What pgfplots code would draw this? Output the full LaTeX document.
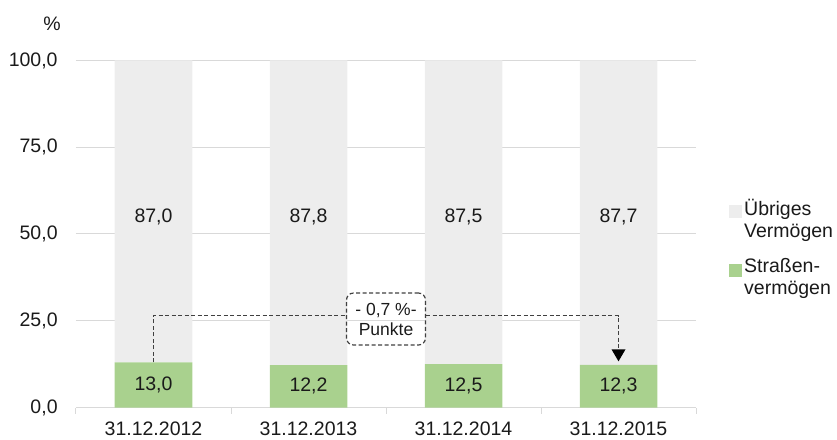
\documentclass[border=0pt]{standalone}
\usepackage{fontspec}
\setmainfont{Liberation Sans}
\usepackage{pgfplots}
\pgfplotsset{compat=1.18}
\usetikzlibrary{arrows.meta}
\definecolor{grn}{HTML}{A9D18E}
\definecolor{gry}{HTML}{EDEDED}
\definecolor{gridc}{HTML}{D9D9D9}
\definecolor{txt}{HTML}{1A1A1A}
\definecolor{ann}{HTML}{404040}
\begin{document}
\fontsize{19.5}{22}\selectfont
\begin{tikzpicture}
\useasboundingbox (-76pt,-31.5pt) rectangle (761pt,407.5pt);
\pgfplotsset{base/.style={at={(0,0)}, anchor=south west,
  scale only axis, width=620pt, height=347pt,
  xmin=-0.5, xmax=3.5, ymin=0, ymax=100}}
\begin{axis}[base,
  ybar stacked, bar width=0.5,
  axis lines*=left,
  x axis line style={draw=gridc, line width=1pt, -},
  y axis line style={draw=none},
  xtick={0,1,2,3},
  xticklabels={31.12.2012,31.12.2013,31.12.2014,31.12.2015},
  minor xtick={-0.5,0.5,1.5,2.5,3.5},
  major tick length=0pt, minor tick length=6pt,
  xtick align=outside,
  minor tick style={draw=gridc, line width=1pt},
  xticklabel style={yshift=-8pt, text=txt},
  ytick={0,25,50,75,100},
  ymajorgrids, grid style={draw=gridc, line width=1pt},
  yticklabel style={xshift=-11.7pt, text=txt},
  ytick style={draw=none},
  yticklabel={\pgfmathprintnumber[fixed, fixed zerofill, precision=1, use comma, assume math mode=true]{\tick}},
  legend style={at={(1,0.46)}, anchor=west, xshift=30pt, draw=none, fill=none,
    cells={anchor=west, align=left}, row sep=14pt, text=txt},
  reverse legend,
  legend image code/.code={\fill[#1] (0pt,1pt) rectangle (13pt,14pt);},
]
\addplot[fill=grn, draw=none] coordinates {(0,13.0) (1,12.2) (2,12.5) (3,12.3)};
\addlegendentry{Straßen-\\vermögen}
\addplot[fill=gry, draw=none] coordinates {(0,87.0) (1,87.8) (2,87.5) (3,87.7)};
\addlegendentry{Übriges\\Vermögen}
\coordinate (B) at (axis cs:1.5,25.5);
\coordinate (S) at (axis cs:0,13.0);
\coordinate (L) at (axis cs:0,26.5);
\coordinate (R) at (axis cs:3,26.5);
\coordinate (E) at (axis cs:3,13.3);
\coordinate (P) at (rel axis cs:0,1);
\end{axis}
\begin{axis}[base, hide axis,
  nodes near coords, point meta=explicit symbolic,
  every node near coord/.append style={anchor=center, text=txt}]
\addplot[draw=none, mark=none] coordinates {(0,6.5)[13,0] (1,6.1)[12,2] (2,6.25)[12,5] (3,6.15)[12,3]};
\addplot[draw=none, mark=none] coordinates {(0,55.0)[87,0] (1,55.0)[87,8] (2,55.0)[87,5] (3,55.0)[87,7]};
\end{axis}
\node[draw=ann, line width=1.2pt, dash pattern=on 4pt off 2.5pt, rounded corners=7pt,
  minimum width=79pt, minimum height=52pt, align=center, text=txt,
  font=\fontsize{17.5}{20}\selectfont, inner sep=2pt] (box) at (B) {- 0,7 \%-\\Punkte};
\draw[ann, line width=1.3pt, dash pattern=on 4pt off 2.5pt] (S) -- (L) -- (L -| box.west);
\draw[ann, line width=1.3pt, dash pattern=on 4pt off 2.5pt] (R -| box.east) -- (R) -- (E);
\fill[black] (E) -- ++(-7pt,12pt) -- ++(14pt,0) -- cycle;
\node[text=txt] at ([xshift=-24pt,yshift=36.5pt]P) {\%};
\end{tikzpicture}
\end{document}
